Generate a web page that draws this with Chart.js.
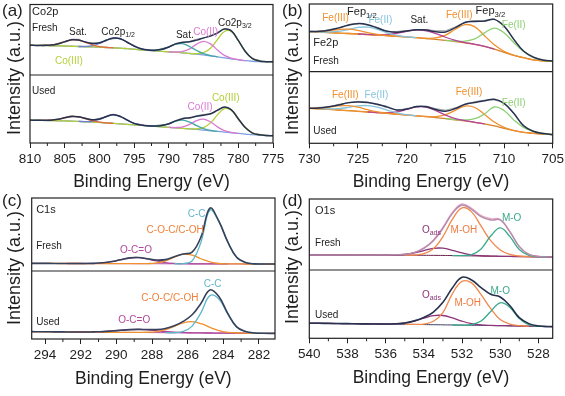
<!DOCTYPE html>
<html lang="en">
<head>
<meta charset="UTF-8">
<title>XPS spectra</title>
<script src="https://cdn.jsdelivr.net/npm/chart.js"></script>
<style>
  body { margin: 0; background: #fff; }
  #wrap { position: relative; width: 565px; height: 396px; overflow: hidden; }
  #wrap canvas { position: absolute; left: 0; top: 0; }
</style>
</head>
<body>
<div id="wrap">
  <canvas id="chartA" width="565" height="396"></canvas>
  <canvas id="chartB" width="565" height="396"></canvas>
  <canvas id="chartC" width="565" height="396"></canvas>
  <canvas id="chartD" width="565" height="396"></canvas>
</div>
<script>
const _ = null;

// (a) Co 2p, binding energy in eV, intensity in arbitrary units per sub-panel
const coEnergy = [810,809,808,807,806,805,804,803,802,801,800,799,798,797,796,795,794,793,792,791,790,789,788,787,786,785,784,783,782,781,780,779,778,777,776,775];
const coFreshEnv = [42.3,42.0,42.0,42.4,44.1,47.3,49.9,49.5,46.8,44.6,45.6,49.4,52.4,51.4,46.5,41.0,37.2,35.4,35.1,36.4,39.8,44.1,46.4,47.0,49.5,52.7,55.2,59.6,65.1,62.6,49.0,33.4,23.7,19.9,18.9,18.8];
const coFreshRaw = [43.5,41.2,43.5,41.8,45.1,46.2,50.8,50.8,46.1,45.7,44.7,50.2,51.2,52.4,46.0,42.3,36.2,36.3,34.3,37.6,39.2,45.1,45.3,47.7,50.8,51.8,56.3,59.0,65.9,63.8,48.1,34.4,22.9,21.0,18.2,19.7];
const coFreshBg = [42.3,42.0,41.8,41.5,41.3,41.1,40.8,40.4,40.1,39.9,39.4,39.0,38.5,38.0,37.3,36.6,35.7,35.0,34.3,33.6,32.9,32.2,31.5,30.5,29.6,28.4,27.2,25.8,24.4,23.0,21.6,20.4,19.5,19.0,18.8,18.8];
const coFreshSat1 = [_,42.0,42.0,42.4,44.1,47.3,49.9,49.5,46.3,42.7,40.3,39.2,38.5];
const coFreshP12 = [_,_,_,_,_,_,_,40.4,40.6,41.8,44.7,49.2,52.4,51.4,46.5,41.0,37.2,35.4,34.3];
const coFreshSat2 = [_,_,_,_,_,_,_,_,_,_,_,_,_,_,_,_,_,35.0,35.1,36.4,39.8,43.7,44.4,40.3,34.7,30.2,27.6,25.8];
const coFreshCo2 = [_,_,_,_,_,_,_,_,_,_,_,_,_,_,_,_,_,_,_,_,32.9,32.6,33.5,37.1,43.8,47.7,44.1,35.3,27.8,23.8,21.7,20.4];
const coFreshCo3 = [42.3,42.0,41.8,41.5,41.3,41.1,40.8,40.4,40.1,39.9,39.4,39.0,38.5,38.0,37.3,36.6,35.7,35.0,34.3,33.6,32.9,32.2,31.5,30.6,30.2,31.6,37.9,50.1,61.7,61.8,48.9,33.4,23.7,19.9,18.9,18.8];

const coUsedEnv = [33.7,33.4,33.3,33.5,34.8,37.0,39.0,38.5,36.1,34.1,35.2,39.0,41.6,39.2,33.6,28.9,26.4,25.2,24.9,25.8,28.4,32.6,35.7,37.3,39.2,40.9,43.0,48.0,52.8,48.8,35.7,22.7,15.0,12.1,11.1,10.7];
const coUsedRaw = [32.8,34.5,32.6,34.7,33.8,37.8,40.3,37.6,37.1,33.3,36.4,38.4,42.7,38.0,34.5,28.2,27.4,24.1,25.7,27.0,27.5,33.3,36.8,36.3,40.1,42.2,42.2,49.0,52.2,49.7,34.6,23.5,14.1,13.1,10.4,11.5];
const coUsedBg = [33.7,33.4,33.2,32.9,32.7,32.4,32.2,31.7,31.2,30.7,30.2,29.5,28.8,28.0,27.3,26.6,25.9,25.1,24.4,23.7,22.9,22.2,21.5,20.7,20.0,19.0,18.0,17.1,16.1,15.1,14.1,13.2,12.2,11.5,11.0,10.7];
const coUsedSat1 = [_,33.4,33.3,33.5,34.8,37.0,39.0,38.5,35.8,32.8,30.8,29.6,28.8];
const coUsedP12 = [_,_,_,_,_,_,_,31.7,31.5,32.0,34.6,38.9,41.6,39.2,33.6,28.9,26.4,25.2,24.4];
const coUsedSat2 = [_,_,_,_,_,_,_,_,_,_,_,_,_,_,_,_,_,25.1,24.9,25.8,28.4,32.1,33.5,30.6,25.5,21.1,18.5,17.1];
const coUsedCo2 = [_,_,_,_,_,_,_,_,_,_,_,_,_,_,_,_,_,_,_,_,22.9,22.7,23.7,27.3,32.9,35.1,30.9,23.7,18.3,15.6,14.1];
const coUsedCo3 = [33.7,33.4,33.2,32.9,32.7,32.4,32.2,31.7,31.2,30.7,30.2,29.5,28.8,28.0,27.3,26.6,25.9,25.1,24.4,23.7,22.9,22.2,21.5,20.8,20.8,22.7,29.6,41.4,50.6,48.3,35.7,22.7,15.0,12.1,11.1,10.7];

// (b) Fe 2p
const feEnergy = [730,729,728,727,726,725,724,723,722,721,720,719,718,717,716,715,714,713,712,711,710,709,708,707,706,705];
const feFreshEnv = [59.3,59.6,61.3,64.7,68.7,71.0,69.5,64.5,59.8,58.3,60.1,61.9,61.5,59.0,58.8,65.0,72.6,74.3,75.0,77.3,67.5,47.8,30.5,21.5,17.2,15.9];
const feFreshRaw = [60.1,59.0,62.3,64.0,69.6,71.6,68.7,65.6,59.3,59.5,60.8,61.3,62.5,60.5,60.6,66.2,73.5,75.7,74.4,78.4,66.7,48.7,29.8,22.3,16.6,16.6];
const feFreshBg = [59.1,58.6,57.9,57.1,56.4,55.7,54.9,54.2,53.2,52.2,51.2,50.2,49.0,47.8,46.3,44.6,42.6,40.4,37.4,33.5,28.6,24.1,20.7,17.5,16.0,15.5];
const feFresh3a = [59.3,59.5,60.6,62.3,62.9,60.9,57.6,55.1,53.4,52.2];
const feFresh2a = [59.1,58.7,58.6,59.5,62.2,65.4,65.8,62.5,57.5,53.7,51.6,50.2];
const feFreshSat = [_,_,_,_,_,55.7,55.0,54.7,55.0,56.8,59.7,61.7,60.5,56.3,50.9,46.4,43.1,40.5,37.4,33.5];
const feFresh3b = [59.1,58.6,57.9,57.1,56.4,55.7,54.9,54.2,53.2,52.2,51.2,50.2,49.4,50.0,54.1,62.7,69.6,66.2,53.2,39.7,30.2,24.4,20.7,17.5,16.0,15.5];
const feFresh2b = [_,_,_,_,_,_,_,_,_,_,_,_,_,_,46.3,45.1,45.1,48.4,57.4,64.5,57.6,43.1,29.7,21.0,17.0,15.8];

const feUsedEnv = [49.0,49.4,51.0,53.5,56.8,57.6,57.0,54.5,50.5,46.5,47.8,51.3,51.2,47.1,44.8,48.5,54.5,57.0,59.5,61.4,55.8,41.9,24.5,16.8,13.6,12.3];
const feUsedRaw = [48.3,50.3,50.4,54.5,56.0,58.7,57.7,53.6,51.7,45.9,48.8,50.5,52.1,48.4,46.3,49.6,53.8,58.2,60.3,60.5,56.8,41.3,25.4,16.1,14.4,11.8];
const feUsedBg = [48.8,48.1,47.4,46.5,45.6,44.7,43.7,42.8,41.9,40.7,39.5,38.4,37.2,35.8,34.4,32.8,31.2,29.3,27.0,24.2,20.9,17.7,15.3,14.0,12.8,12.1];
const feUsed3a = [49.0,49.3,50.6,52.3,52.6,50.5,46.9,44.0,42.2,40.7];
const feUsed2a = [_,48.2,48.0,48.4,50.1,52.3,52.7,50.4,46.4,42.6,40.1,38.5];
const feUsedSat = [_,_,_,_,_,_,43.7,43.0,42.8,44.0,47.3,50.9,50.7,45.7,39.3,34.4,31.6,29.3,27.0];
const feUsed3b = [48.8,48.1,47.4,46.5,45.6,44.7,43.7,42.8,41.9,40.7,39.5,38.4,37.4,37.2,39.9,46.1,51.9,50.0,40.3,29.7,22.3,17.9,15.3,14.0,12.8,12.1];
const feUsed2b = [_,_,_,_,_,_,_,_,_,_,_,_,_,_,34.4,33.1,32.7,34.3,41.0,50.7,45.9,32.7,22.3,16.5,13.5,12.3];

// (c) C 1s
const cEnergy = [294.75,294.25,293.75,293.25,292.75,292.25,291.75,291.25,290.75,290.25,289.75,289.25,288.75,288.25,287.75,287.25,286.75,286.25,285.75,285.25,284.75,284.25,283.75,283.25,282.75,282.25,281.75,281.25,280.75];
const cFreshEnv = [10.4,10.4,10.4,10.3,10.3,10.3,10.3,10.5,11.2,12.9,15.5,18.0,18.4,16.7,15.0,15.6,19.6,23.4,25.8,46.8,86.0,68.3,39.8,18.7,11.6,9.8,9.6,9.5,9.5];
const cFreshBg = [10.4,10.4,10.4,10.3,10.3,10.3,10.2,10.2,10.2,10.1,10.1,10.1,10.0,10.0,10.0,9.9,9.9,9.9,9.8,9.8,9.8,9.7,9.7,9.7,9.6,9.6,9.6,9.5,9.5];
const cFreshOCO = [_,_,_,_,10.3,10.3,10.3,10.5,11.2,12.9,15.5,18.0,18.4,16.5,13.8,11.5,10.4,10.0,9.8,9.8,9.8,9.7,9.7];
const cFreshCOC = [10.4,10.4,10.4,10.3,10.3,10.3,10.2,10.2,10.2,10.1,10.1,10.1,10.0,10.2,11.2,14.0,19.1,23.0,21.8,16.8,12.5,10.3,9.8,9.7,9.6,9.6,9.6,9.5,9.5];
const cFreshCC = [_,_,_,_,_,_,_,_,_,_,_,_,_,_,_,_,9.9,10.2,13.8,39.8,83.3,67.7,39.7,18.7,11.6,9.8,9.6];

const cUsedEnv = [10.8,10.7,10.6,10.5,10.4,10.3,10.3,10.5,10.9,11.8,12.9,13.8,14.2,13.9,13.9,15.5,19.5,26.0,35.6,52.6,72.2,62.4,37.8,17.8,11.1,8.9,8.4,8.3,8.3];
const cUsedBg = [10.8,10.7,10.6,10.5,10.4,10.3,10.2,10.1,10.0,9.9,9.8,9.7,9.6,9.5,9.4,9.3,9.2,9.1,9.0,8.9,8.8,8.7,8.6,8.5,8.5,8.4,8.4,8.3,8.3];
const cUsedOCO = [_,_,_,_,10.4,10.3,10.3,10.5,10.9,11.8,12.9,13.8,14.1,13.5,12.3,11.0,10.0,9.4,9.1,8.9,8.8,8.7,8.6,8.5,8.5];
const cUsedCOC = [10.8,10.7,10.6,10.5,10.4,10.3,10.2,10.1,10.0,9.9,9.8,9.7,9.7,9.9,11.0,13.8,18.7,23.7,25.5,22.6,17.2,12.4,9.8,8.8,8.6,8.4,8.4,8.3,8.3];
const cUsedCC = [_,_,_,_,_,_,_,_,_,_,_,_,_,_,_,9.3,9.2,11.1,19.0,38.9,63.8,58.7,36.6,17.5,11.0,8.9,8.4];

// (d) O 1s
const oEnergy = [540,539.5,539,538.5,538,537.5,537,536.5,536,535.5,535,534.5,534,533.5,533,532.5,532,531.5,531,530.5,530,529.5,529,528.5,528,527.5,527];
const oFreshEnv = [21.1,21.1,21.1,21.1,21.1,21.1,21.1,21.1,21.1,21.6,22.1,24.4,30.5,41.3,58.7,79.8,91.5,85.3,75.1,70.4,70.4,54.0,32.9,22.1,19.2,18.3,18.3];
const oFreshRaw = [21.3,21.0,21.2,20.9,21.2,21.0,21.3,21.1,21.0,21.8,22.0,24.8,31.2,42.5,60.3,81.5,93.2,87.0,76.8,72.3,71.5,54.8,33.2,22.0,19.4,18.1,18.4];
const oFreshBg = [21.1,21.1,21.1,21.1,21.1,21.1,21.1,21.1,21.1,21.0,20.9,20.8,20.7,20.6,20.5,20.3,20.1,19.9,19.7,19.5,19.3,19.1,18.9,18.7,18.5,18.3,18.3];
const oFreshAds = [21.1,21.1,21.1,21.1,21.1,21.1,21.1,21.1,21.1,21.3,22.0,24.1,27.4,30.5,30.7,27.8,24.0,21.3,20.1,19.6,19.3,19.1,18.9,18.7,18.5,18.3,18.3];
const oFreshMOH = [_,_,_,_,_,_,_,_,_,_,20.9,21.1,22.9,29.8,46.9,71.6,87.6,81.9,61.7,41.5,28.3,22.1,19.7,18.9,18.5];
const oFreshMO = [_,_,_,_,_,_,_,_,_,_,_,_,_,_,_,20.3,20.3,21.7,29.7,47.8,59.3,47.4,28.9,20.5,18.7,18.3];

const oUsedEnv = [22.0,22.0,21.8,21.6,21.5,21.3,21.1,21.0,21.0,21.2,22.5,25.5,30.5,38.5,52.7,74.1,89.3,85.4,74.1,64.4,60.5,48.0,30.2,21.5,18.0,17.2,17.1];
const oUsedBg = [22.0,22.0,21.8,21.6,21.5,21.3,21.1,21.0,20.8,20.6,20.5,20.3,20.1,19.9,19.7,19.5,19.3,19.1,18.9,18.7,18.5,18.3,18.0,17.8,17.5,17.2,17.1];
const oUsedAds = [22.0,22.0,21.8,21.6,21.5,21.3,21.1,21.0,20.9,21.1,22.4,25.2,29.5,33.1,33.4,29.8,25.1,21.5,19.6,18.9,18.6,18.3,18.0,17.8,17.5,17.2,17.1];
const oUsedMOH = [_,_,_,_,_,_,_,_,_,_,20.5,20.5,20.9,24.9,37.7,65.5,83.3,81.1,63.9,43.7,27.5,20.8,18.6,17.8];
const oUsedMO = [_,_,_,_,_,_,_,_,_,_,_,_,_,_,_,19.5,19.4,20.1,25.2,39.3,52.0,45.5,29.0,20.0,17.7,17.2];

const FONT = 'Arial, "Liberation Sans", sans-serif';
const ENV = '#27324f', RAW = '#a5a5a5', TXT = '#1e1e1e';
const ORANGE = '#f0902e', PINK = '#d97ad3', YG = '#b3cf3a';

function pts(energy, values) {
  return energy.map((e, i) => ({ x: e, y: values[i] }));
}

function ln(energy, values, color, axis, width, raw) {
  return {
    data: pts(energy, values), borderColor: color, borderWidth: width || 1.3,
    pointRadius: 0, tension: raw ? 0 : 0.4, fill: false, yAxisID: axis
  };
}

const panels = [
  {
    id: 'chartA', min: 775, max: 810, major: 5, minor: 2.5,
    pad: { left: 30, top: 4.5, right: 292, bottom: 200 }, xh: 53, tpad: 3.5, wTop: 70.5, wBot: 68,
    tag: '(a)', tagX: 2, tagY: 11, ytX: 15, ytY: 78,
    sets: [
      ln(coEnergy, coFreshEnv, ENV, 'yTop', 1.5),
      ln(coEnergy, coFreshSat1, '#e4693f', 'yTop'),
      ln(coEnergy, coFreshP12, '#6f7fcf', 'yTop'),
      ln(coEnergy, coFreshSat2, '#45a8a5', 'yTop'),
      ln(coEnergy, coFreshCo2, PINK, 'yTop'),
      ln(coEnergy, coFreshCo3, YG, 'yTop'),
      ln(coEnergy, coFreshBg, '#7f9ee0', 'yTop'),
      ln(coEnergy, coFreshRaw, RAW, 'yTop', 1, true),
      ln(coEnergy, coUsedEnv, ENV, 'yBot', 1.5),
      ln(coEnergy, coUsedSat1, '#e4693f', 'yBot'),
      ln(coEnergy, coUsedP12, '#6f7fcf', 'yBot'),
      ln(coEnergy, coUsedSat2, '#45a8a5', 'yBot'),
      ln(coEnergy, coUsedCo2, PINK, 'yBot'),
      ln(coEnergy, coUsedCo3, YG, 'yBot'),
      ln(coEnergy, coUsedBg, '#7f9ee0', 'yBot'),
      ln(coEnergy, coUsedRaw, RAW, 'yBot', 1, true)
    ],
    notes: [
      { t: 'Co2p', e: 809.7, v: 88.7, ax: 'yTop', al: 'left', z: 11 },
      { t: 'Fresh', e: 809.7, v: 66.7, ax: 'yTop', al: 'left' },
      { t: 'Sat.', e: 803.1, v: 60.3, ax: 'yTop' },
      { t: 'Co2p', s: '1/2', e: 797.3, v: 61, ax: 'yTop' },
      { t: 'Sat.', e: 787.7, v: 56, ax: 'yTop' },
      { t: 'Co(II)', e: 784.7, v: 61, ax: 'yTop', c: PINK },
      { t: 'Co2p', s: '3/2', e: 780.5, v: 73.8, ax: 'yTop' },
      { t: 'Co(III)', e: 804.4, v: 19.9, ax: 'yTop', c: YG },
      { t: 'Used', e: 809.7, v: 76.5, ax: 'yBot', al: 'left' },
      { t: 'Co(II)', e: 785.5, v: 52.9, ax: 'yBot', c: PINK },
      { t: 'Co(III)', e: 781.8, v: 66.2, ax: 'yBot', c: YG }
    ]
  },
  {
    id: 'chartB', min: 705, max: 730, major: 5, minor: 2.5,
    pad: { left: 309.3, top: 4, right: 12.3, bottom: 199.7 }, xh: 53, tpad: 3.5, wTop: 67.7, wBot: 71.6,
    tag: '(b)', tagX: 282, tagY: 11, ytX: 293, ytY: 78,
    sets: [
      ln(feEnergy, feFreshEnv, ENV, 'yTop', 1.5),
      ln(feEnergy, feFresh3a, ORANGE, 'yTop'),
      ln(feEnergy, feFresh2a, '#86c3de', 'yTop'),
      ln(feEnergy, feFreshSat, '#b6449a', 'yTop'),
      ln(feEnergy, feFresh2b, '#8bd173', 'yTop'),
      ln(feEnergy, feFresh3b, ORANGE, 'yTop'),
      ln(feEnergy, feFreshBg, '#d4822a', 'yTop'),
      ln(feEnergy, feFreshRaw, RAW, 'yTop', 1, true),
      ln(feEnergy, feUsedEnv, ENV, 'yBot', 1.5),
      ln(feEnergy, feUsed3a, ORANGE, 'yBot'),
      ln(feEnergy, feUsed2a, '#86c3de', 'yBot'),
      ln(feEnergy, feUsedSat, '#b6449a', 'yBot'),
      ln(feEnergy, feUsed2b, '#8bd173', 'yBot'),
      ln(feEnergy, feUsed3b, ORANGE, 'yBot'),
      ln(feEnergy, feUsedBg, '#d4822a', 'yBot'),
      ln(feEnergy, feUsedRaw, RAW, 'yBot', 1, true)
    ],
    notes: [
      { t: 'Fe(III)', e: 727.3, v: 78.8, ax: 'yTop', c: ORANGE },
      { t: 'Fep', s: '1/2', e: 724.6, v: 87.7, ax: 'yTop', z: 11 },
      { t: 'Fe(II)', e: 722.7, v: 76.4, ax: 'yTop', c: '#86c3de' },
      { t: 'Sat.', e: 718.7, v: 75.9, ax: 'yTop' },
      { t: 'Fe(III)', e: 714.6, v: 83.7, ax: 'yTop', c: ORANGE },
      { t: 'Fep', s: '3/2', e: 711.4, v: 89.7, ax: 'yTop', z: 11 },
      { t: 'Fe(II)', e: 709.0, v: 69, ax: 'yTop', c: '#8bd173' },
      { t: 'Fe2p', e: 729.6, v: 41.9, ax: 'yTop', al: 'left', z: 11 },
      { t: 'Fresh', e: 729.6, v: 14.8, ax: 'yTop', al: 'left' },
      { t: 'Fe(III)', e: 726.3, v: 66.5, ax: 'yBot', c: ORANGE },
      { t: 'Fe(II)', e: 723.1, v: 66.5, ax: 'yBot', c: '#86c3de' },
      { t: 'Fe(III)', e: 713.6, v: 70.7, ax: 'yBot', c: ORANGE },
      { t: 'Fe(II)', e: 709.0, v: 56.3, ax: 'yBot', c: '#8bd173' },
      { t: 'Used', e: 729.6, v: 16.7, ax: 'yBot', al: 'left' }
    ]
  },
  {
    id: 'chartC', min: 281.1, max: 294.75, major: 2, minor: 1,
    pad: { left: 31.7, top: 198, right: 290, bottom: 0 }, xh: 57, tpad: 6.5, wTop: 73, wBot: 68,
    tag: '(c)', tagX: 2, tagY: 201, ytX: 15, ytY: 268,
    sets: [
      ln(cEnergy, cFreshEnv, '#36415c', 'yTop', 1.6),
      ln(cEnergy, cFreshCC, '#5fb6ca', 'yTop'),
      ln(cEnergy, cFreshCOC, ORANGE, 'yTop'),
      ln(cEnergy, cFreshOCO, '#b0479c', 'yTop'),
      ln(cEnergy, cFreshBg, '#b0479c', 'yTop', 1),
      ln(cEnergy, cUsedEnv, '#36415c', 'yBot', 1.6),
      ln(cEnergy, cUsedCC, '#5fb6ca', 'yBot'),
      ln(cEnergy, cUsedCOC, ORANGE, 'yBot'),
      ln(cEnergy, cUsedOCO, '#b0479c', 'yBot'),
      ln(cEnergy, cUsedBg, '#b0479c', 'yBot', 1)
    ],
    notes: [
      { t: 'C1s', e: 294.5, v: 83.8, ax: 'yTop', al: 'left', z: 11 },
      { t: 'C-C', e: 285.5, v: 77.8, ax: 'yTop', c: '#5fb6ca' },
      { t: 'C-O-C/C-OH', e: 286.7, v: 56, ax: 'yTop', c: '#f0803a' },
      { t: 'Fresh', e: 294.5, v: 33.3, ax: 'yTop', al: 'left' },
      { t: 'O-C=O', e: 288.9, v: 28.7, ax: 'yTop', c: '#b0479c' },
      { t: 'C-C', e: 284.6, v: 80.9, ax: 'yBot', c: '#5fb6ca' },
      { t: 'C-O-C/C-OH', e: 287.0, v: 59.8, ax: 'yBot', c: '#f0803a' },
      { t: 'Used', e: 294.5, v: 24, ax: 'yBot', al: 'left' },
      { t: 'O-C=O', e: 289.0, v: 27.5, ax: 'yBot', c: '#b0479c' }
    ]
  },
  {
    id: 'chartD', min: 527.25, max: 540, major: 2, minor: 1,
    pad: { left: 309.3, top: 199, right: 12.3, bottom: 0.7 }, xh: 57, tpad: 6.5, wTop: 71, wBot: 68.3,
    tag: '(d)', tagX: 282, tagY: 201, ytX: 293, ytY: 267,
    sets: [
      ln(oEnergy, oFreshEnv, '#b38aa8', 'yTop', 1.4),
      ln(oEnergy, oFreshMO, '#3aa98b', 'yTop'),
      ln(oEnergy, oFreshMOH, '#f2884c', 'yTop'),
      ln(oEnergy, oFreshAds, '#8c3479', 'yTop'),
      ln(oEnergy, oFreshBg, '#6b1f47', 'yTop', 1),
      ln(oEnergy, oFreshRaw, '#e9a3c6', 'yTop', 1.2),
      ln(oEnergy, oUsedEnv, ENV, 'yBot', 1.6),
      ln(oEnergy, oUsedMO, '#3aa98b', 'yBot'),
      ln(oEnergy, oUsedMOH, '#f2884c', 'yBot'),
      ln(oEnergy, oUsedAds, '#8c3479', 'yBot'),
      ln(oEnergy, oUsedBg, '#3b3f66', 'yBot', 1)
    ],
    notes: [
      { t: 'O1s', e: 539.7, v: 83.6, ax: 'yTop', al: 'left', z: 11 },
      { t: 'Fresh', e: 539.7, v: 38, ax: 'yTop', al: 'left' },
      { t: 'O', s: 'ads', e: 533.6, v: 56.3, ax: 'yTop', c: '#8c3479' },
      { t: 'M-OH', e: 531.9, v: 55.4, ax: 'yTop', c: '#f07a3e' },
      { t: 'M-O', e: 529.4, v: 72.3, ax: 'yTop', c: '#3aa98b' },
      { t: 'Used', e: 539.7, v: 33.7, ax: 'yBot', al: 'left' },
      { t: 'O', s: 'ads', e: 533.6, v: 63.4, ax: 'yBot', c: '#8c3479' },
      { t: 'M-OH', e: 531.7, v: 51.2, ax: 'yBot', c: '#f07a3e' },
      { t: 'M-O', e: 530.0, v: 69.3, ax: 'yBot', c: '#3aa98b' }
    ]
  }
];

// frame, divider, minor ticks, in-panel labels, panel tag and y title
function decor(p) {
  return {
    id: 'decor',
    afterDraw(chart) {
      const ctx = chart.ctx;
      const a = chart.chartArea;
      const x = chart.scales.x;
      ctx.save();
      ctx.strokeStyle = '#222';
      ctx.lineWidth = 1.2;
      ctx.strokeRect(a.left, a.top, a.right - a.left, a.bottom - a.top);
      ctx.beginPath();
      ctx.moveTo(a.left, chart.scales.yTop.bottom);
      ctx.lineTo(a.right, chart.scales.yTop.bottom);
      ctx.stroke();

      ctx.lineWidth = 1;
      ctx.beginPath();
      for (let v = Math.ceil(p.min / p.minor) * p.minor; v <= p.max + 1e-6; v += p.minor) {
        const r = v / p.major;
        if (Math.abs(r - Math.round(r)) < 1e-6) continue;
        const px = x.getPixelForValue(v);
        ctx.moveTo(px, a.bottom);
        ctx.lineTo(px, a.bottom + 3);
      }
      ctx.stroke();

      ctx.textAlign = 'left';
      ctx.textBaseline = 'middle';
      p.notes.forEach(n => {
        const size = n.z || 10;
        const main = size + 'px ' + FONT;
        const sub = (size * 0.7) + 'px ' + FONT;
        ctx.font = main;
        const w1 = ctx.measureText(n.t).width;
        let w2 = 0;
        if (n.s) {
          ctx.font = sub;
          w2 = ctx.measureText(n.s).width;
        }
        let px = x.getPixelForValue(n.e);
        const py = chart.scales[n.ax].getPixelForValue(n.v);
        if (n.al !== 'left') px -= (w1 + w2) / 2;
        ctx.fillStyle = n.c || TXT;
        ctx.font = main;
        ctx.fillText(n.t, px, py);
        if (n.s) {
          ctx.font = sub;
          ctx.fillText(n.s, px + w1, py + size * 0.32);
        }
      });

      ctx.fillStyle = TXT;
      ctx.font = '17px ' + FONT;
      ctx.fillText(p.tag, p.tagX, p.tagY);
      ctx.translate(p.ytX, p.ytY);
      ctx.rotate(-Math.PI / 2);
      ctx.textAlign = 'center';
      ctx.font = '18px ' + FONT;
      ctx.fillText('Intensity (a.u.)', 0, 0);
      ctx.restore();
    }
  };
}

function yAxis(weight) {
  return {
    type: 'linear', position: 'left', stack: 'panel', stackWeight: weight,
    min: 0, max: 100,
    ticks: { display: false },
    grid: { display: false },
    border: { display: false },
    afterFit(s) { s.width = 0; s.paddingTop = 0; s.paddingBottom = 0; }
  };
}

panels.forEach(p => {
  new Chart(document.getElementById(p.id), {
    type: 'line',
    data: { datasets: p.sets },
    options: {
      responsive: false,
      animation: false,
      events: [],
      layout: { padding: p.pad },
      plugins: { legend: { display: false }, tooltip: { enabled: false } },
      scales: {
        x: {
          type: 'linear', reverse: true, min: p.min, max: p.max,
          afterFit(s) { s.height = p.xh; s.paddingLeft = 0; s.paddingRight = 0; },
          ticks: {
            stepSize: p.major, includeBounds: false, autoSkip: false, maxRotation: 0,
            padding: 3, color: TXT, font: { family: FONT, size: 13.5 },
            callback: v => String(v)
          },
          grid: { display: true, drawOnChartArea: false, drawTicks: true, tickLength: 5, tickColor: '#222', tickWidth: 1 },
          border: { display: false },
          title: {
            display: true, text: 'Binding Energy (eV)', color: TXT,
            font: { family: FONT, size: 17.5 }, padding: { top: 0, bottom: p.tpad }
          }
        },
        yBot: yAxis(p.wBot),
        yTop: yAxis(p.wTop)
      }
    },
    plugins: [decor(p)]
  });
});
</script>
</body>
</html>
